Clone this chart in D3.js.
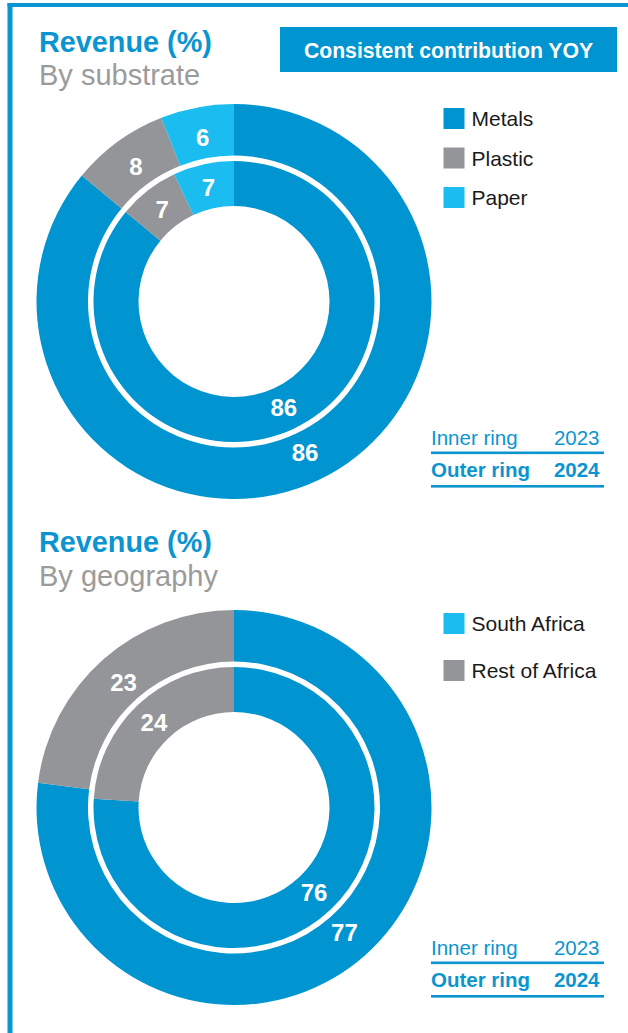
<!DOCTYPE html>
<html>
<head>
<meta charset="utf-8">
<script src="https://cdn.jsdelivr.net/npm/d3@7"></script>
<style>
  html, body { margin: 0; padding: 0; background: #fff; }
  svg { display: block; font-family: "Liberation Sans", Arial, sans-serif; }
</style>
</head>
<body>
<svg id="chart" width="628" height="1033"></svg>
<script>
// Revenue split by substrate (inner ring 2023, outer ring 2024)
const substrateCategories = ["Metals", "Plastic", "Paper"];
const substrate2023 = [86, 7, 7];
const substrate2024 = [86, 8, 6];

// Revenue split by geography
const geographyCategories = ["South Africa", "Rest of Africa"];
const geography2023 = [76, 24];
const geography2024 = [77, 23];

const ringLabels = ["Inner ring", "Outer ring"];
const ringYears = ["2023", "2024"];

const BLUE = "#0094d0";
const GREY = "#939598";
const LIGHT = "#1bbcef";
const BRAND = "#0b95d0";

const svg = d3.select("#chart");

// frame: top rule and left rule
svg.append("rect").attr("x", 7.5).attr("y", 3).attr("width", 628).attr("height", 4).attr("fill", BRAND);
svg.append("rect").attr("x", 7.5).attr("y", 3).attr("width", 5).attr("height", 1040).attr("fill", BRAND);

// header badge
svg.append("rect").attr("x", 280).attr("y", 27).attr("width", 337).attr("height", 45).attr("fill", BLUE);
svg.append("text").attr("x", 448.5).attr("y", 57.5).attr("text-anchor", "middle")
  .attr("fill", "#fff").attr("font-weight", "bold").attr("font-size", 21.2)
  .text("Consistent contribution YOY");

const pie = d3.pie().sort(null).startAngle(0).endAngle(2 * Math.PI);
const innerArc = d3.arc().innerRadius(95.5).outerRadius(140.5);
const outerArc = d3.arc().innerRadius(146).outerRadius(197.5);
const innerLabelArc = d3.arc().innerRadius(117).outerRadius(117);
const outerLabelArc = d3.arc().innerRadius(167).outerRadius(167);

function drawPanel(cfg) {
  const g = svg.append("g");

  g.append("text").attr("x", 39).attr("y", cfg.titleY)
    .attr("fill", BRAND).attr("font-weight", "bold").attr("font-size", 28.8)
    .text("Revenue (%)");
  g.append("text").attr("x", 39).attr("y", cfg.titleY + 33.5)
    .attr("fill", "#9b9b9b").attr("font-size", 29)
    .text(cfg.subtitle);

  const color = d3.scaleOrdinal().domain(cfg.categories).range(cfg.sliceColors);
  const donut = g.append("g").attr("transform", `translate(${cfg.cx},${cfg.cy})`);

  const rings = [
    { values: cfg.inner, arc: innerArc, label: innerLabelArc },
    { values: cfg.outer, arc: outerArc, label: outerLabelArc }
  ];
  rings.forEach(ring => {
    const arcs = pie(ring.values).map((a, i) => Object.assign(a, { cat: cfg.categories[i] }));
    donut.selectAll(null).data(arcs).join("path")
      .attr("d", ring.arc)
      .attr("fill", d => color(d.cat));
    donut.selectAll(null).data(arcs).join("text")
      .attr("transform", d => `translate(${ring.label.centroid(d)})`)
      .attr("dy", "0.36em")
      .attr("text-anchor", "middle")
      .attr("fill", "#fff").attr("font-weight", "bold").attr("font-size", 24)
      .text(d => d.data);
  });

  // category legend
  const legendColor = d3.scaleOrdinal().domain(cfg.categories).range(cfg.legendColors);
  const lg = g.append("g");
  cfg.categories.forEach((c, i) => {
    const y = cfg.legendY + i * cfg.legendStep;
    lg.append("rect").attr("x", 443.5).attr("y", y - 10.5).attr("width", 21).attr("height", 21)
      .attr("fill", legendColor(c));
    lg.append("text").attr("x", 471.5).attr("y", y + 7.5)
      .attr("fill", "#1a1a1a").attr("font-size", 21).text(c);
  });

  // ring key
  const kg = g.append("g").attr("fill", BRAND);
  ringLabels.forEach((lbl, i) => {
    const by = cfg.keyY + i * 32;
    const bold = i === 1 ? "bold" : "normal";
    kg.append("text").attr("x", 431).attr("y", by).attr("font-size", 20.5)
      .attr("font-weight", bold).text(lbl);
    kg.append("text").attr("x", 599.5).attr("y", by).attr("font-size", 20.5)
      .attr("font-weight", bold).attr("text-anchor", "end").text(ringYears[i]);
    kg.append("rect").attr("x", 431).attr("y", by + 6.5 + i * 1.5).attr("width", 173).attr("height", 2.6)
      .attr("fill", BRAND);
  });
}

drawPanel({
  titleY: 51.5, subtitle: "By substrate",
  categories: substrateCategories, inner: substrate2023, outer: substrate2024,
  sliceColors: [BLUE, GREY, LIGHT], legendColors: [BLUE, GREY, LIGHT],
  cx: 234, cy: 301.5,
  legendY: 118.5, legendStep: 39.5,
  keyY: 445
});

drawPanel({
  titleY: 552, subtitle: "By geography",
  categories: geographyCategories, inner: geography2023, outer: geography2024,
  sliceColors: [BLUE, GREY], legendColors: [LIGHT, GREY],
  cx: 234, cy: 807.5,
  legendY: 623.5, legendStep: 47,
  keyY: 955
});
</script>
</body>
</html>
